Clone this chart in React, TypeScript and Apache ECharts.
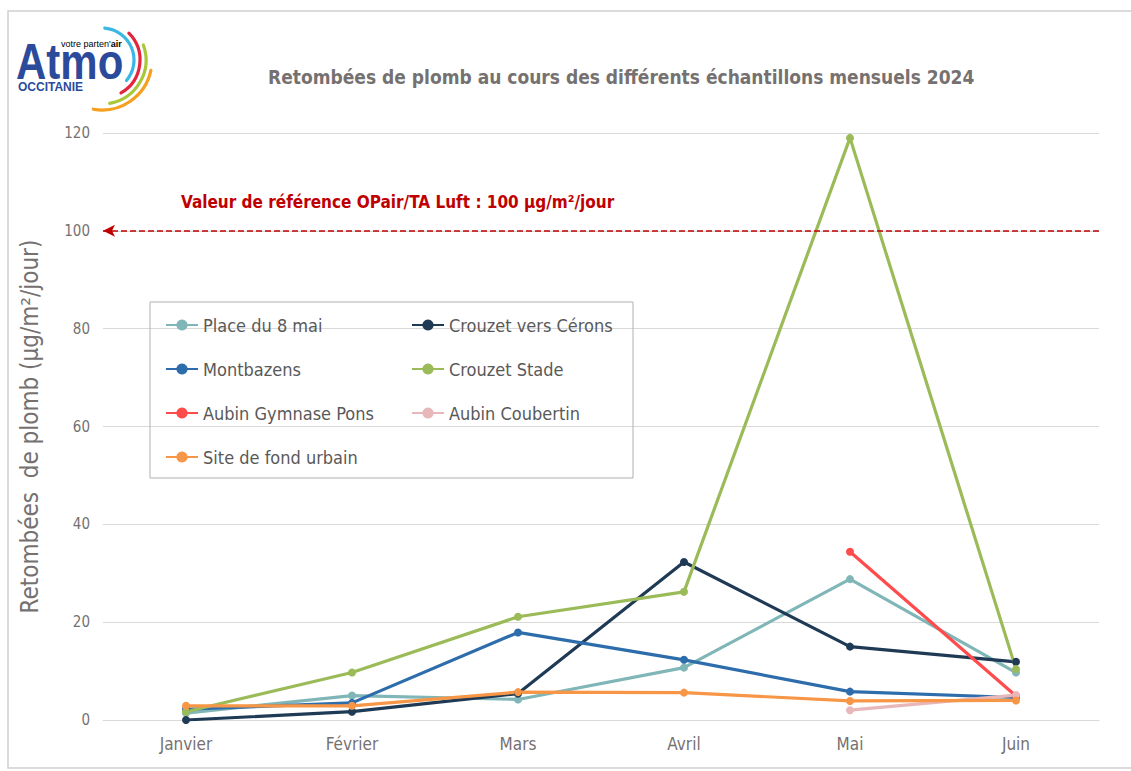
import React, { useEffect, useRef } from "react";
import * as echarts from "echarts";

const months = ["Janvier", "Février", "Mars", "Avril", "Mai", "Juin"];
const place8mai = [1.4, 5.0, 4.2, 10.7, 28.8, 9.7];
const crouzetCerons = [0.0, 1.7, 5.4, 32.3, 15.0, 11.9];
const montbazens = [2.2, 3.5, 17.9, 12.3, 5.8, 4.6];
const crouzetStade = [1.7, 9.7, 21.1, 26.2, 119.0, 10.4];
const aubinPons = [null, null, null, null, 34.4, 4.9];
const aubinCoubertin = [null, null, null, null, 2.0, 5.1];
const fondUrbain = [2.9, 2.9, 5.7, 5.6, 3.9, 4.0];
const referenceValue = 100;
const yTicks = { min: 0, max: 120, interval: 20 };

const seriesDefs = [
  { name: "Place du 8 mai", data: place8mai, color: "#80b6b7" },
  { name: "Crouzet vers Cérons", data: crouzetCerons, color: "#1f3a55" },
  { name: "Montbazens", data: montbazens, color: "#2e6dab" },
  { name: "Crouzet Stade", data: crouzetStade, color: "#9bbb59" },
  { name: "Aubin Gymnase Pons", data: aubinPons, color: "#ff4b4b" },
  { name: "Aubin Coubertin", data: aubinCoubertin, color: "#e8b7ba" },
  { name: "Site de fond urbain", data: fondUrbain, color: "#f79646" },
];

const FONT = "'Liberation Sans Narrow', 'Arial Narrow', 'DejaVu Sans Condensed', 'Liberation Sans', Arial, sans-serif";

export default function App() {
  const ref = useRef<HTMLDivElement>(null);
  useEffect(() => {
    if (!ref.current) return;
    const chart = echarts.init(ref.current, undefined, { renderer: "svg" });
    const series: any[] = seriesDefs.map((s) => ({
      name: s.name,
      type: "line",
      data: s.data,
      color: s.color,
      symbol: "circle",
      symbolSize: 8,
      lineStyle: { width: 3.2, color: s.color },
      itemStyle: { color: s.color },
      emphasis: { disabled: true },
      z: 3,
    }));
    series[0].markLine = {
      silent: true,
      symbol: ["arrow", "none"],
      symbolSize: [9, 12],
      lineStyle: { color: "#c00000", type: [6, 3], width: 1.6 },
      label: {
        show: true,
        position: "insideStartTop",
        distance: [78, 20],
        formatter: "Valeur de référence OPair/TA Luft : 100 µg/m²/jour",
        color: "#c00000",
        fontFamily: FONT,
        fontWeight: "bold",
        fontSize: 17,
      },
      data: [{ yAxis: referenceValue }],
    };
    const arcs = [
      { r: 32, s: -85, e: 40, c: "#3bb7e6" },
      { r: 38, s: -45, e: 60, c: "#e3263d" },
      { r: 44, s: -20, e: 80, c: "#a8c838" },
      { r: 50, s: 12, e: 100, c: "#f5a01e" },
    ];
    chart.setOption({
      animation: false,
      backgroundColor: "#ffffff",
      title: {
        text: "Retombées de plomb au cours des différents échantillons mensuels 2024",
        left: 263,
        top: 62,
        textStyle: { fontFamily: FONT, fontWeight: "bold", fontSize: 19, color: "#767171" },
      },
      legend: {
        left: 150,
        top: 302,
        width: 480,
        orient: "horizontal",
        padding: [13, 0, 11, 15],
        itemGap: 24,
        itemWidth: 32,
        itemHeight: 14,
        borderColor: "#b0b0b0",
        borderWidth: 1,
        textStyle: { fontFamily: FONT, fontSize: 18, color: "#595959", width: 184, lineHeight: 20 },
        data: seriesDefs.map((s) => s.name),
      },
      grid: { left: 103, right: 32, top: 133, bottom: 51, containLabel: false },
      xAxis: {
        type: "category",
        data: months,
        boundaryGap: true,
        axisLine: { lineStyle: { color: "#d9d9d9", width: 1 } },
        axisTick: { show: false },
        axisLabel: { color: "#767171", fontFamily: FONT, fontSize: 17, margin: 15 },
      },
      yAxis: {
        type: "value",
        min: yTicks.min,
        max: yTicks.max,
        interval: yTicks.interval,
        name: "Retombées  de plomb (µg/m²/jour)",
        nameLocation: "middle",
        nameGap: 61,
        nameTextStyle: { fontFamily: FONT, fontSize: 24, color: "#767171" },
        axisLine: { show: false },
        axisTick: { show: false },
        axisLabel: { color: "#767171", fontFamily: FONT, fontSize: 15, margin: 13 },
        splitLine: { lineStyle: { color: "#d9d9d9", width: 1 } },
      },
      graphic: [
        {
          type: "rect",
          shape: { x: 8, y: 11, width: 1140, height: 757 },
          style: { fill: "none", stroke: "#d0d0d0", lineWidth: 1.5 },
          silent: true,
        },
        ...arcs.map((a) => ({
          type: "arc",
          shape: { cx: 102, cy: 60, r: a.r, startAngle: (a.s * Math.PI) / 180, endAngle: (a.e * Math.PI) / 180 },
          style: { stroke: a.c, lineWidth: 3.2, fill: "none", lineCap: "round" },
          silent: true,
        })),
        {
          type: "text",
          x: 16,
          y: 62,
          scaleX: 0.84,
          style: { text: "Atmo", font: "bold 50px 'Liberation Sans', Arial, sans-serif", fill: "#2c4a9b", verticalAlign: "middle" },
        },
        {
          type: "text",
          x: 61,
          y: 44,
          style: {
            text: "{a|votre parten'}{b|air}",
            verticalAlign: "middle",
            rich: {
              a: { fontSize: 9, fontFamily: "'Liberation Sans', Arial", color: "#2c4a9b" },
              b: { fontSize: 9, fontWeight: "bold", fontFamily: "'Liberation Sans', Arial", color: "#2c4a9b" },
            },
          } as any,
        },
        {
          type: "text",
          x: 18,
          y: 87,
          style: { text: "OCCITANIE", font: "bold 12px 'Liberation Sans', Arial, sans-serif", fill: "#2c4a9b", verticalAlign: "middle" },
        },
      ],
      series,
    });
    return () => chart.dispose();
  }, []);
  return <div ref={ref} style={{ position: "fixed", left: 0, top: 0, width: 1131, height: 771 }} />;
}
